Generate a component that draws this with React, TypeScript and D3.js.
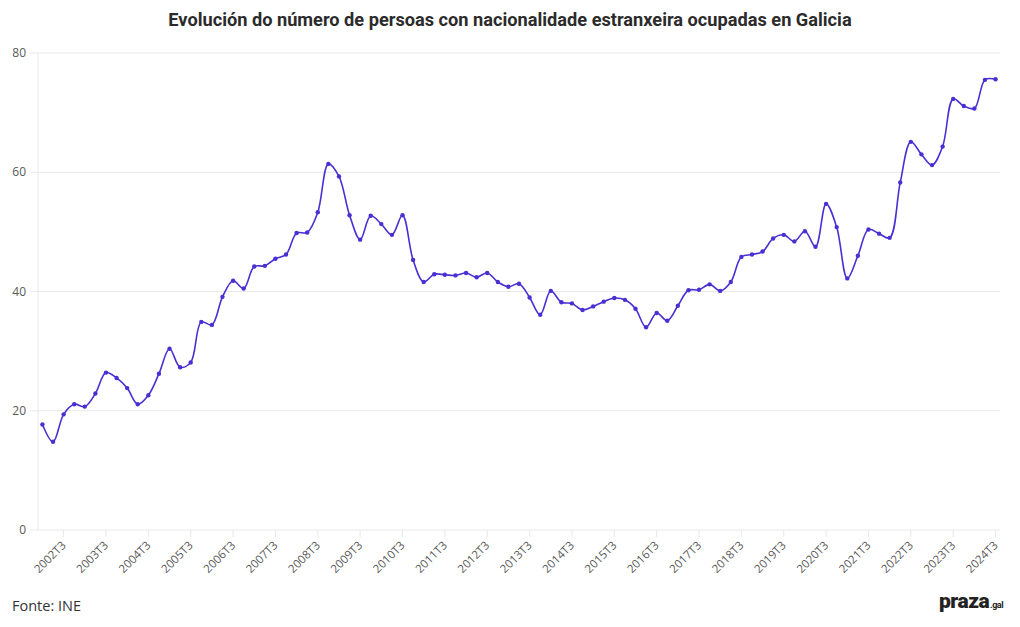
import React from "react";
import * as d3 from "d3";

const years = d3.range(2002, 2025);
const quarters = ["T1", "T2", "T3", "T4"];
const periods: string[] = years.flatMap((y) => quarters.map((q) => `${y}${q}`)).slice(0, 91);

const values: number[] = [
  17.7, 14.8, 19.4, 21.1, 20.7, 22.9, 26.4, 25.5, 23.8, 21.1,
  22.6, 26.2, 30.4, 27.3, 28.1, 34.9, 34.4, 39.1, 41.8, 40.5,
  44.2, 44.3, 45.5, 46.2, 49.8, 49.9, 53.3, 61.4, 59.3, 52.8,
  48.7, 52.7, 51.3, 49.5, 52.8, 45.3, 41.6, 42.9, 42.8, 42.7,
  43.1, 42.4, 43.1, 41.6, 40.8, 41.3, 39.0, 36.1, 40.1, 38.2,
  38.0, 36.9, 37.5, 38.3, 38.9, 38.6, 37.1, 34.0, 36.4, 35.1,
  37.6, 40.2, 40.3, 41.2, 40.1, 41.6, 45.8, 46.2, 46.7, 48.9,
  49.5, 48.4, 50.1, 47.5, 54.7, 50.8, 42.2, 46.0, 50.4, 49.7,
  49.0, 58.3, 65.1, 63.0, 61.2, 64.3, 72.3, 71.1, 70.7, 75.5,
  75.6,
];

const tickLabels: string[] = years.map((y) => `${y}T3`);
const yTicks: number[] = [0, 20, 40, 60, 80];

const W = 1020;
const H = 627;
const left = 38;
const right = 1000;
const top = 53;
const bottom = 530;
const lineColor = "#4a2fd3";
const gridColor = "#e9e9ec";
const tickText = "#595959";

export default function App() {
  const x = d3.scalePoint<string>().domain(periods).range([left, right]).padding(0.42);
  const y = d3.scaleLinear().domain([0, 80]).range([bottom, top]);
  const line = d3
    .line<number>()
    .x((_, i) => x(periods[i]) as number)
    .y((d) => y(d))
    .curve(d3.curveCatmullRom.alpha(0.5));

  return (
    <svg
      width={W}
      height={H}
      style={{ position: "absolute", left: 0, top: 0, background: "#fff" }}
      fontFamily="'Open Sans', sans-serif"
    >
      <rect width={W} height={H} fill="#fff" />
      <text
        x={510}
        y={26}
        textAnchor="middle"
        fontFamily="Roboto, sans-serif"
        fontWeight={700}
        fontSize={18.2}
        fill="#2b2b2b"
      >
        Evolución do número de persoas con nacionalidade estranxeira ocupadas en Galicia
      </text>

      {yTicks.map((t) => (
        <g key={t}>
          <line x1={left} x2={right} y1={y(t)} y2={y(t)} stroke={gridColor} strokeWidth={1} />
          <line x1={left - 8} x2={left} y1={y(t)} y2={y(t)} stroke={gridColor} strokeWidth={1} />
          <text x={left - 12} y={y(t) + 4} textAnchor="end" fontSize={12} fill={tickText}>
            {t}
          </text>
        </g>
      ))}
      <line x1={left} x2={left} y1={top} y2={bottom} stroke={gridColor} strokeWidth={1} />

      {tickLabels.map((lab) => {
        const tx = x(lab) as number;
        return (
          <g key={lab}>
            <line x1={tx} x2={tx} y1={bottom} y2={bottom + 7} stroke={gridColor} strokeWidth={1} />
            <text
              transform={`translate(${tx + 3},${bottom + 16}) rotate(-45)`}
              textAnchor="end"
              fontSize={11.5}
              fill={tickText}
            >
              {lab}
            </text>
          </g>
        );
      })}

      <path d={line(values) || ""} fill="none" stroke={lineColor} strokeWidth={1.6} />
      {values.map((v, i) => (
        <circle key={i} cx={x(periods[i]) as number} cy={y(v)} r={2.2} fill={lineColor} />
      ))}

      <text x={12} y={611} fontSize={14.5} fill="#333">
        Fonte: INE
      </text>
      <text x={939} y={608} fontFamily="Roboto, sans-serif" fontWeight={900} fontSize={21} fill="#222" letterSpacing={-0.5}>
        praza
        <tspan fontSize={9} fontWeight={700} dx={1}>.gal</tspan>
      </text>
    </svg>
  );
}
